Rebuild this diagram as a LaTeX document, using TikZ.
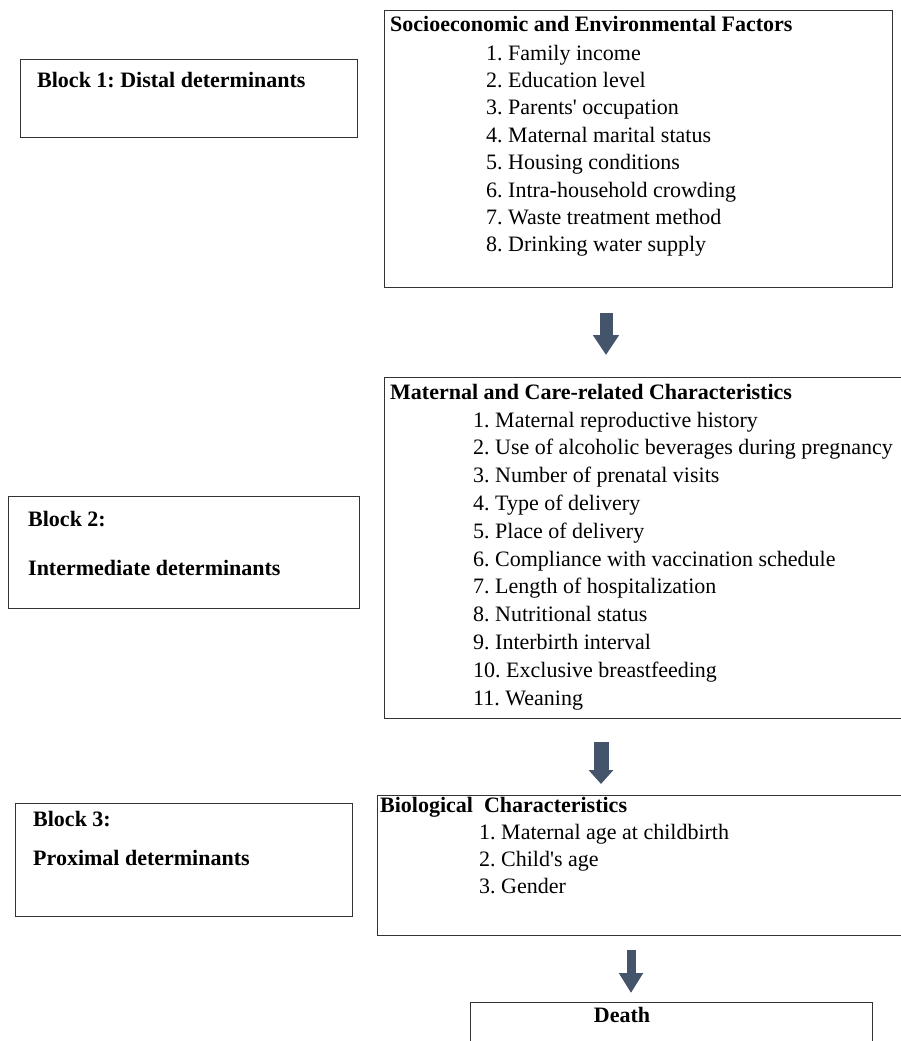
\documentclass[tikz,border=0pt]{standalone}
\usepackage{fontspec}
\setmainfont{Liberation Serif}
\usetikzlibrary{arrows.meta}
\definecolor{arrowblue}{HTML}{44546A}
\definecolor{boxline}{HTML}{333333}
\tikzset{
  box/.style={draw=boxline, line width=1.3pt, anchor=north west, inner sep=0pt},
  head/.style={anchor=base west, inner sep=0pt, font=\bfseries},
  item/.style={anchor=base west, inner sep=0pt},
  blockarrow/.style={draw=arrowblue, line width=13pt, -{Triangle[length=20pt,width=25pt]}},
}
\begin{document}
\frenchspacing
\fontsize{22}{27}\selectfont
\begin{tikzpicture}[x=1pt,y=-1pt]
\useasboundingbox (0,0) rectangle (901,1041);

% block labels on the left
\node[box, minimum width=337pt, minimum height=78pt] (blockone) at (20,59) {};
\node[head] (blockonetxt) at (37,87) {Block 1: Distal determinants};
\node[box, minimum width=351pt, minimum height=112pt] (blocktwo) at (8,496) {};
\node[head] (blocktwotxt) at (28,526) {Block 2:};
\node[head] (blocktwosub) at (28,575) {Intermediate determinants};
\node[box, minimum width=337pt, minimum height=113pt] (blockthree) at (15,803) {};
\node[head] (blockthreetxt) at (33,826) {Block 3:};
\node[head] (blockthreesub) at (33,865) {Proximal determinants};

% factor boxes on the right
\node[box, minimum width=508pt, minimum height=277pt] (factors) at (384,10) {};
\node[head] (factorstitle) at (390,32) {Socioeconomic and Environmental Factors};
\foreach \txt [count=\i] in {Family income, Education level,
  Parents\textquotesingle{} occupation, Maternal marital status,
  Housing conditions, Intra-household crowding, Waste treatment method,
  Drinking water supply}
  \node[item] (fac\i) at (486,{60+27.4*(\i-1)}) {\i. \txt};

\node[box, minimum width=540pt, minimum height=341pt] (maternal) at (384,377) {};
\node[head] (maternaltitle) at (390,399) {Maternal and Care-related Characteristics};
\foreach \txt [count=\i] in {Maternal reproductive history,
  Use of alcoholic beverages during pregnancy, Number of prenatal visits,
  Type of delivery, Place of delivery, Compliance with vaccination schedule,
  Length of hospitalization, Nutritional status, Interbirth interval,
  Exclusive breastfeeding, Weaning}
  \node[item] (mat\i) at (473,{427+27.8*(\i-1)}) {\i. \txt};

\node[box, minimum width=540pt, minimum height=140pt] (biological) at (377,795) {};
\node[head] (biologicaltitle) at (380,812) {Biological~ Characteristics};
\foreach \txt [count=\i] in {Maternal age at childbirth,
  Child\textquotesingle{}s age, Gender}
  \node[item] (bio\i) at (479,{839+27*(\i-1)}) {\i. \txt};

\node[box, minimum width=402pt, minimum height=80pt] (death) at (470,1002) {};
\node[head, anchor=base] (deathtxt) at (622,1022) {Death};

% arrows between the boxes
\coordinate (arrtop1) at (606,313);
\coordinate (arrtip1) at (606,355);
\coordinate (arrtop2) at (601,742);
\coordinate (arrtip2) at (601,784);
\coordinate (arrtop3) at (631,950);
\coordinate (arrtip3) at (631,993);
\draw[blockarrow] (arrtop1) -- (arrtip1);
\draw[blockarrow, line width=15pt, -{Triangle[length=14pt,width=24pt]}] (arrtop2) -- (arrtip2);
\draw[blockarrow, line width=9pt, -{Triangle[length=20pt,width=23pt]}] (arrtop3) -- (arrtip3);

\end{tikzpicture}
\end{document}
